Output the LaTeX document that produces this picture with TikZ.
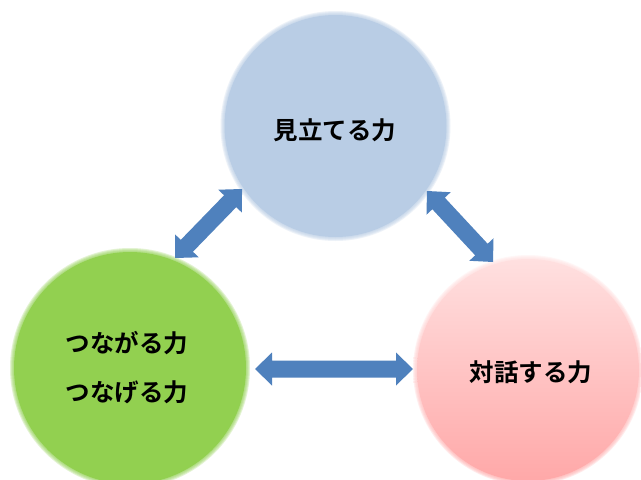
\documentclass[tikz,border=0pt]{standalone}
\usepackage{fontspec}
\newfontfamily\cjk{Noto Sans CJK JP}[BoldFont={Noto Sans CJK JP Bold}]
\usetikzlibrary{calc}
\definecolor{cblue}{RGB}{185,205,229}
\definecolor{cgreen}{RGB}{146,208,80}
\definecolor{cpinktop}{RGB}{255,224,224}
\definecolor{cpinkbot}{RGB}{255,168,168}
\definecolor{arrowblue}{RGB}{79,129,189}
\tikzset{
  lbl/.style={font=\cjk\bfseries\fontsize{24.5}{49}\selectfont, align=center, text=black, inner sep=0pt},
  ringfill/.style={fill opacity=0.25, draw=none},
}
\newcommand\softdisc[3]{% center, radius, color
  \foreach \dr in {2,1,0,-1}{\fill[#3, ringfill] (#1) circle ({#2+\dr});}
  \fill[#3] (#1) circle ({#2-2});
}
\newcommand\blockarrow[2]{%
  \fill[arrowblue] (#1)
    -- ($(#1)!17pt!(#2)!16.5pt!90:(#2)$)
    -- ($(#1)!17pt!(#2)!8.5pt!90:(#2)$)
    -- ($(#2)!17pt!(#1)!8.5pt!-90:(#1)$)
    -- ($(#2)!17pt!(#1)!16.5pt!-90:(#1)$)
    -- (#2)
    -- ($(#2)!17pt!(#1)!16.5pt!90:(#1)$)
    -- ($(#2)!17pt!(#1)!8.5pt!90:(#1)$)
    -- ($(#1)!17pt!(#2)!8.5pt!-90:(#2)$)
    -- ($(#1)!17pt!(#2)!16.5pt!-90:(#2)$)
    -- cycle;
}
\begin{document}
\begin{tikzpicture}[x=1pt,y=-1pt]
\useasboundingbox[fill=white] (0,0) rectangle (641,480);
\coordinate (ctop) at (335.5,126);
\coordinate (cleft) at (130,368);
\coordinate (cright) at (528,370);
% top circle
\softdisc{ctop}{113}{cblue}
% left circle
\softdisc{cleft}{118}{cgreen}
% right circle (gradient)
\foreach \dr in {2,1,0,-1}{\shade[top color=cpinktop, bottom color=cpinkbot, ringfill] (cright) circle ({113+\dr});}
\shade[top color=cpinktop, bottom color=cpinkbot] (cright) circle (111);
% labels
\node[lbl] (ntop) at (335,130) {見立てる力};
\node[lbl] (nleft) at (127,368) {つながる力\\つなげる力};
\node[lbl] (nright) at (531,372) {対話する力};
% arrows
\coordinate (a1) at (175,258);
\coordinate (b1) at (242,189);
\coordinate (a2) at (427,191);
\coordinate (b2) at (493,262);
\coordinate (a3) at (255,369);
\coordinate (b3) at (413,369);
\blockarrow{a1}{b1}
\blockarrow{a2}{b2}
\blockarrow{a3}{b3}
\end{tikzpicture}
\end{document}
